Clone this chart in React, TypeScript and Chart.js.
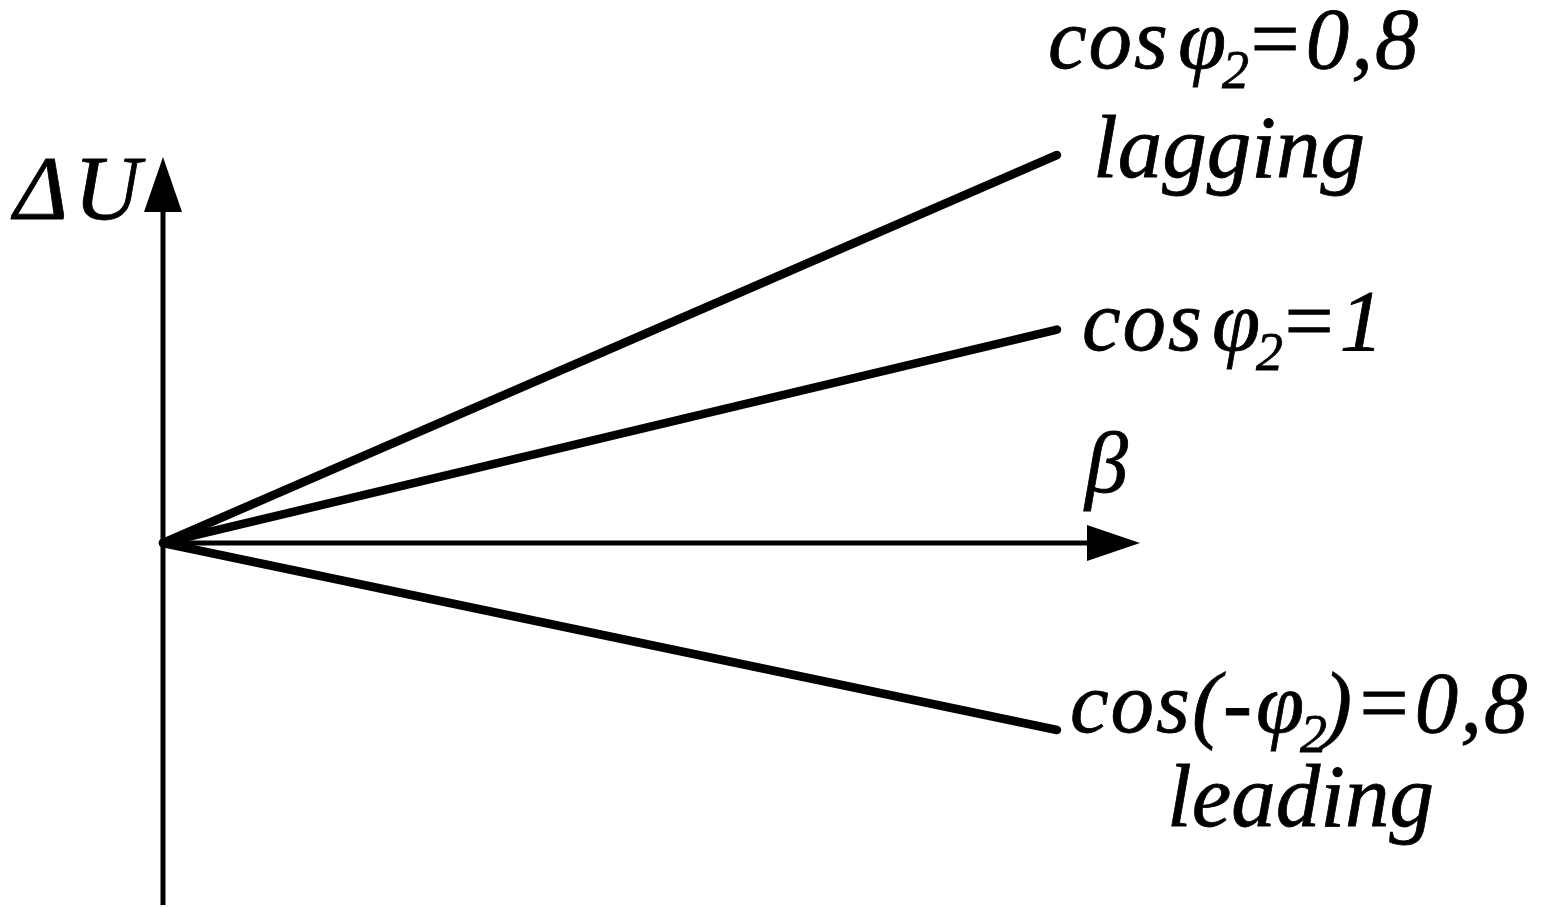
import { useEffect, useRef } from "react";
import { Chart, registerables } from "chart.js";

Chart.register(...registerables);

// Load factor β (relative) and voltage drop ΔU (relative) for three power factors
const loadFactor = [0, 1];
const duLagging = [0, 1.0];
const duUnity = [0, 0.55];
const duLeading = [0, -0.482];

const axisTitleX = "β";
const axisTitleY = "ΔU";

const FONT = '"Liberation Serif", "Times New Roman", serif';

type Run = { t: string; size: number; dy?: number; gap?: number };

function drawRuns(ctx: CanvasRenderingContext2D, x: number, y: number, runs: Run[], spacing = 0) {
  let cx = x;
  for (const r of runs) {
    ctx.font = `italic ${r.size}px ${FONT}`;
    cx += r.gap || 0;
    for (const ch of Array.from(r.t)) {
      ctx.fillText(ch, cx, y + (r.dy || 0));
      ctx.strokeText(ch, cx, y + (r.dy || 0));
      cx += ctx.measureText(ch).width + spacing;
    }
  }
}

const MAIN = 87;
const SUB = 54;

function cosPhi(tail: string, neg: boolean): Run[] {
  return [
    { t: neg ? "cos(-" : "cos", size: MAIN },
    { t: "φ", size: MAIN, gap: neg ? 2 : 8 },
    { t: "2", size: SUB, dy: 20, gap: -6 },
    { t: tail, size: MAIN, gap: -6 },
  ];
}

const diagramPlugin = {
  id: "diagram",
  beforeDatasetsDraw(chart: any) {
    const ctx: CanvasRenderingContext2D = chart.ctx;
    const xs = chart.scales.x;
    const ys = chart.scales.y;
    const ox = xs.getPixelForValue(0);
    const oy = ys.getPixelForValue(0);
    ctx.save();
    ctx.strokeStyle = "#000";
    ctx.fillStyle = "#000";
    ctx.lineWidth = 5;
    ctx.lineCap = "butt";
    // vertical axis
    ctx.beginPath();
    ctx.moveTo(ox, 905);
    ctx.lineTo(ox, 205);
    ctx.stroke();
    ctx.beginPath();
    ctx.moveTo(ox, 157);
    ctx.lineTo(ox - 19, 212);
    ctx.lineTo(ox + 19, 212);
    ctx.closePath();
    ctx.fill();
    // horizontal axis
    ctx.beginPath();
    ctx.moveTo(ox, oy);
    ctx.lineTo(1090, oy);
    ctx.stroke();
    ctx.beginPath();
    ctx.moveTo(1140, oy);
    ctx.lineTo(1087, oy - 18);
    ctx.lineTo(1087, oy + 18);
    ctx.closePath();
    ctx.fill();
    ctx.restore();
  },
  afterDraw(chart: any) {
    const ctx: CanvasRenderingContext2D = chart.ctx;
    const m0 = chart.getDatasetMeta(0).data[1];
    const m1 = chart.getDatasetMeta(1).data[1];
    const m2 = chart.getDatasetMeta(2).data[1];
    ctx.save();
    ctx.fillStyle = "#000";
    ctx.strokeStyle = "#000";
    ctx.lineWidth = 0.8;
    ctx.textBaseline = "alphabetic";
    ctx.textAlign = "left";
    // axis titles
    drawRuns(ctx, 14, 219, [{ t: axisTitleY, size: 92 }], 6);
    drawRuns(ctx, 1085, 492, [{ t: axisTitleX, size: 86 }]);
    // series labels
    drawRuns(ctx, m0.x - 9, m0.y - 87, cosPhi("=0,8", false), 2);
    drawRuns(ctx, m0.x + 36, m0.y + 22, [{ t: "lagging", size: 89 }]);
    drawRuns(ctx, m1.x + 25, m1.y + 20, cosPhi("=1", false), 2);
    drawRuns(ctx, m2.x + 13, m2.y + 2, cosPhi(")=0,8", true), 2);
    drawRuns(ctx, m2.x + 110, m2.y + 96, [{ t: "leading", size: 89 }]);
    ctx.restore();
  },
};

export default function App() {
  const ref = useRef<HTMLCanvasElement | null>(null);
  useEffect(() => {
    if (!ref.current) return;
    const line = (data: number[]) => ({
      data: loadFactor.map((b, i) => ({ x: b, y: data[i] })),
      borderColor: "#000",
      borderWidth: 8.5,
      borderCapStyle: "round" as const,
      borderJoinStyle: "round" as const,
      pointRadius: 0,
      fill: false,
      tension: 0,
      clip: false as const,
    });
    const all = [...duLagging, ...duUnity, ...duLeading];
    const chart = new Chart(ref.current, {
      type: "line",
      data: {
        datasets: [line(duLagging), line(duUnity), line(duLeading)],
      },
      options: {
        animation: false,
        responsive: true,
        maintainAspectRatio: false,
        layout: { padding: { left: 163, right: 495, top: 155, bottom: 177 } },
        plugins: { legend: { display: false }, tooltip: { enabled: false } },
        scales: {
          x: { type: "linear", min: 0, max: 1, display: false },
          y: { type: "linear", min: Math.min(...all), max: Math.max(...all), display: false },
        },
      },
      plugins: [diagramPlugin],
    });
    return () => chart.destroy();
  }, []);
  return (
    <div style={{ position: "absolute", left: 0, top: 0, width: 1552, height: 907, background: "#fff" }}>
      <canvas ref={ref} />
    </div>
  );
}
